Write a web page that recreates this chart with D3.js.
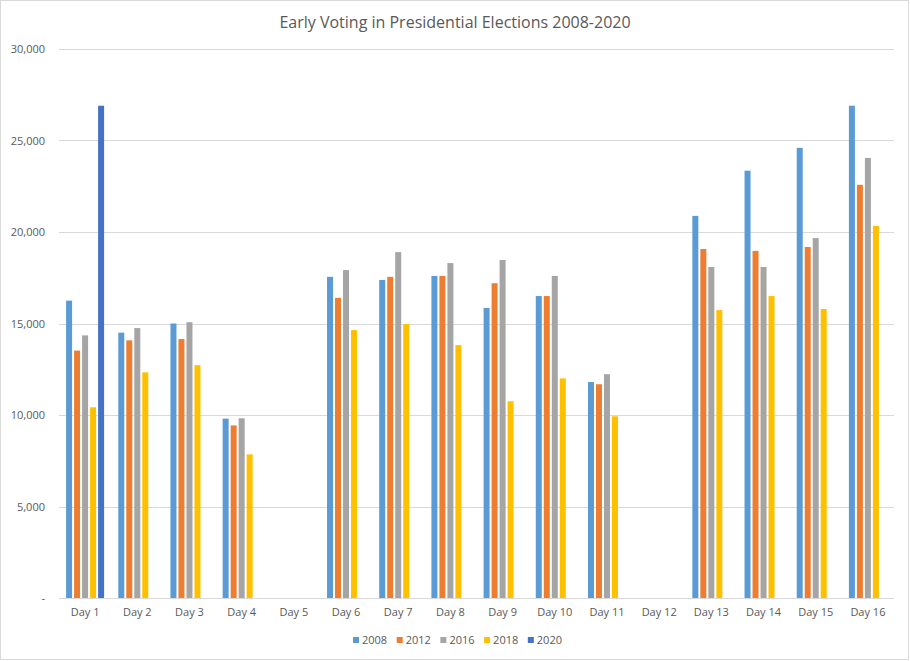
<!DOCTYPE html>
<html>
<head>
<meta charset="utf-8">
<script src="https://cdn.jsdelivr.net/npm/d3@7"></script>
<style>
  body { margin: 0; background: #fff; }
  text { font-family: "Open Sans", sans-serif; fill: #595959; }
</style>
</head>
<body>
<div id="chart"></div>
<script>
// Data
var days = ["Day 1", "Day 2", "Day 3", "Day 4", "Day 5", "Day 6", "Day 7", "Day 8",
  "Day 9", "Day 10", "Day 11", "Day 12", "Day 13", "Day 14", "Day 15", "Day 16"];
var years = ["2008", "2012", "2016", "2018", "2020"];

var votes2008 = [16250, 14500, 15000, 9800, null, 17550, 17380, 17600, 15850, 16500, 11800, null, 20880, 23350, 24600, 26900];
var votes2012 = [13520, 14080, 14150, 9430, null, 16400, 17550, 17600, 17200, 16500, 11680, null, 19070, 18970, 19180, 22580];
var votes2016 = [14350, 14750, 15070, 9820, null, 17920, 18900, 18300, 18470, 17600, 12230, null, 18090, 18090, 19670, 24050];
var votes2018 = [10420, 12330, 12720, 7850, null, 14640, 14970, 13820, 10750, 12000, 9930, null, 15730, 16500, 15790, 20330];
var votes2020 = [26900, null, null, null, null, null, null, null, null, null, null, null, null, null, null, null];

var yTicks = [0, 5000, 10000, 15000, 20000, 25000, 30000];
var colors = ["#5B9BD5", "#ED7D31", "#A5A5A5", "#FFC000", "#4472C4"];

var seriesValues = [votes2008, votes2012, votes2016, votes2018, votes2020];

// build a flat table of bars
var bars = [];
days.forEach(function(day, i) {
  years.forEach(function(year, j) {
    if (seriesValues[j][i] != null) {
      bars.push({ day: day, year: year, value: seriesValues[j][i] });
    }
  });
});

var svgWidth = 910;
var svgHeight = 661;

var margin = { top: 49, right: 16, bottom: 63, left: 59 };
var chartWidth = svgWidth - margin.left - margin.right;
var chartHeight = svgHeight - margin.top - margin.bottom;

var svg = d3.select("#chart")
  .append("svg")
  .attr("width", svgWidth)
  .attr("height", svgHeight);

// outer border
svg.append("rect")
  .attr("x", 0.5)
  .attr("y", 0.5)
  .attr("width", svgWidth - 2)
  .attr("height", svgHeight - 2)
  .attr("fill", "#fff")
  .attr("stroke", "#d9d9d9");

// title
svg.append("text")
  .attr("x", 455)
  .attr("y", 28)
  .attr("text-anchor", "middle")
  .style("font-size", "16px")
  .text("Early Voting in Presidential Elections 2008-2020");

var chartGroup = svg.append("g")
  .attr("transform", `translate(${margin.left}, ${margin.top})`);

var xScale = d3.scaleBand()
  .domain(days)
  .range([0, chartWidth]);

var xInner = d3.scaleBand()
  .domain(years)
  .range([-20, 20])
  .paddingInner(0.25)
  .paddingOuter(0.125);

var yScale = d3.scaleLinear()
  .domain([0, 30000])
  .range([chartHeight, 0]);

// gridlines
chartGroup.selectAll(".grid")
  .data(yTicks)
  .enter()
  .append("line")
  .attr("x1", 0)
  .attr("x2", chartWidth)
  .attr("y1", d => Math.round(yScale(d)) + 0.5)
  .attr("y2", d => Math.round(yScale(d)) + 0.5)
  .attr("stroke", "#d9d9d9")
  .attr("stroke-width", 1);

// bars
chartGroup.selectAll(".bar")
  .data(bars)
  .enter()
  .append("rect")
  .attr("class", "bar")
  .attr("x", d => xScale(d.day) + xScale.bandwidth() / 2 + xInner(d.year))
  .attr("y", d => yScale(d.value))
  .attr("width", xInner.bandwidth())
  .attr("height", d => chartHeight - yScale(d.value))
  .attr("fill", d => colors[years.indexOf(d.year)]);

// left axis
var leftAxis = d3.axisLeft(yScale)
  .tickValues(yTicks)
  .tickSize(0)
  .tickPadding(14)
  .tickFormat(d => d === 0 ? "-" : d3.format(",")(d));

chartGroup.append("g")
  .call(leftAxis)
  .call(g => g.select(".domain").remove())
  .selectAll("text")
  .style("font-size", "11px")
  .style("font-family", "'Open Sans', sans-serif")
  .attr("fill", "#595959");

// bottom axis
var bottomAxis = d3.axisBottom(xScale)
  .tickSize(0)
  .tickPadding(10);

chartGroup.append("g")
  .attr("transform", `translate(0, ${chartHeight})`)
  .call(bottomAxis)
  .call(g => g.select(".domain").remove())
  .selectAll("text")
  .style("font-size", "11px")
  .style("font-family", "'Open Sans', sans-serif")
  .attr("fill", "#595959");

// legend
var legend = svg.append("g")
  .attr("transform", "translate(353, 640)");

var legendItem = legend.selectAll(".legend-item")
  .data(years)
  .enter()
  .append("g")
  .attr("transform", (d, i) => `translate(${i * 43.7}, 0)`);

legendItem.append("rect")
  .attr("x", 0)
  .attr("y", -3)
  .attr("width", 6)
  .attr("height", 6)
  .attr("fill", (d, i) => colors[i]);

legendItem.append("text")
  .attr("x", 9)
  .attr("y", 4)
  .style("font-size", "11px")
  .text(d => d);
</script>
</body>
</html>
